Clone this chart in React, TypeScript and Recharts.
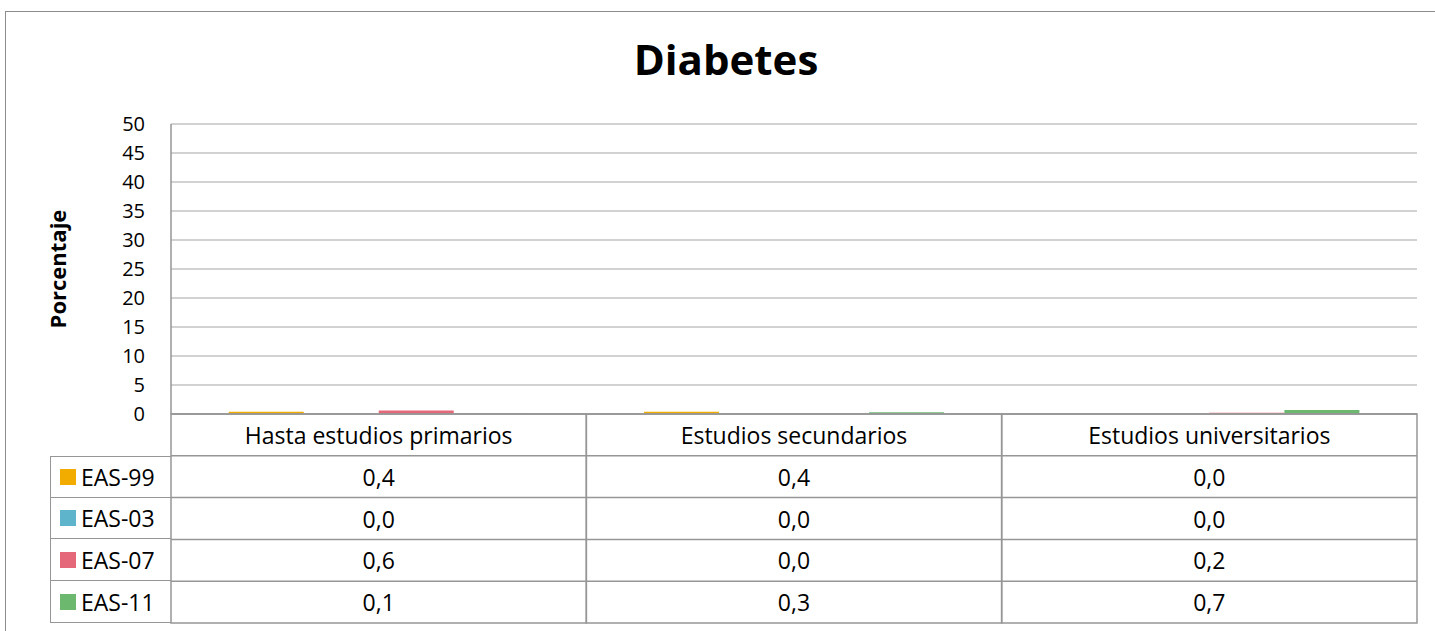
import { Bar, BarChart, CartesianGrid, XAxis, YAxis } from "recharts";

const categories = [
  "Hasta estudios primarios",
  "Estudios secundarios",
  "Estudios universitarios",
];
const seriesNames = ["EAS-99", "EAS-03", "EAS-07", "EAS-11"];
const eas99 = [0.4, 0.4, 0.0];
const eas03 = [0.0, 0.0, 0.0];
const eas07 = [0.6, 0.0, 0.2];
const eas11 = [0.1, 0.3, 0.7];
const yTicks = [0, 5, 10, 15, 20, 25, 30, 35, 40, 45, 50];

const seriesKeys = ["eas99", "eas03", "eas07", "eas11"];
const seriesValues = [eas99, eas03, eas07, eas11];
const colors = ["#F2AC00", "#5EB5CB", "#E5687A", "#6CB86F"];

const W = 1435;
const H = 631;
const PLOT_LEFT = 171;
const PLOT_RIGHT = 1417;
const PLOT_TOP = 124;
const ROW_H = 41.8;
const TABLE_H = ROW_H * 5;
const BAND = (PLOT_RIGHT - PLOT_LEFT) / categories.length;
const LEGEND_LEFT = 50;
const LINE = "#969696";
const FONT = "'Open Sans', sans-serif";
const TABLE_FONT = 23;

const rows = categories.map((name, i) => {
  const row: Record<string, string | number> = { name };
  seriesKeys.forEach((k, s) => {
    row[k] = seriesValues[s][i];
  });
  return row;
});

const fmt = (v: number) => v.toFixed(1).replace(".", ",");

function TableColumn(props: any) {
  const { x, y, payload } = props;
  const idx = categories.indexOf(payload.value);
  const left = x - BAND / 2;
  return (
    <g>
      <rect x={left} y={y} width={BAND} height={TABLE_H} fill="none" stroke={LINE} strokeWidth={1.5} />
      {seriesNames.map((_, s) => (
        <line
          key={s}
          x1={left}
          x2={left + BAND}
          y1={y + ROW_H * (s + 1)}
          y2={y + ROW_H * (s + 1)}
          stroke={LINE}
          strokeWidth={1.5}
        />
      ))}
      <text
        x={x}
        y={y + ROW_H / 2}
        dominantBaseline="central"
        textAnchor="middle"
        fontSize={TABLE_FONT}
        fontFamily={FONT}
        fill="#000"
      >
        {payload.value}
      </text>
      {seriesValues.map((vals, s) => (
        <text
          key={s}
          x={x}
          y={y + ROW_H * (s + 1.5)}
          dominantBaseline="central"
          textAnchor="middle"
          fontSize={TABLE_FONT}
          fontFamily={FONT}
          fill="#000"
        >
          {fmt(vals[idx])}
        </text>
      ))}
    </g>
  );
}

function YLabel(props: any) {
  const vb = props.viewBox;
  const cx = 57;
  const cy = vb.y + vb.height / 2;
  return (
    <text
      x={cx}
      y={cy}
      transform={`rotate(-90, ${cx}, ${cy})`}
      textAnchor="middle"
      dominantBaseline="central"
      fontSize={22}
      fontWeight="bold"
      fontFamily={FONT}
      fill="#000"
    >
      Porcentaje
    </text>
  );
}

export default function App() {
  const tableTop = PLOT_TOP + 290;
  return (
    <div style={{ position: "absolute", left: 0, top: 0, width: W, height: H, background: "#fff", overflow: "hidden" }}>
      <div
        style={{
          position: "absolute",
          left: 5,
          top: 11,
          width: 1460,
          height: 700,
          borderLeft: "1.5px solid #8c8c8c",
          borderTop: "1.5px solid #8c8c8c",
          boxSizing: "border-box",
        }}
      />
      <div
        style={{
          position: "absolute",
          left: 0,
          width: 1452,
          top: 31,
          textAlign: "center",
          fontFamily: FONT,
          fontWeight: "bold",
          fontSize: 42,
          lineHeight: "56px",
          color: "#000",
        }}
      >
        Diabetes
      </div>
      <div style={{ position: "absolute", left: 0, top: 0 }}>
        <BarChart
          width={W}
          height={H}
          data={rows}
          margin={{ top: PLOT_TOP, right: W - PLOT_RIGHT, bottom: H - PLOT_TOP - 290 - TABLE_H, left: 0 }}
          barCategoryGap="13.9%"
          barGap={0}
        >
          <CartesianGrid vertical={false} stroke="#a5a5a5" strokeWidth={1.2} />
          <XAxis
            dataKey="name"
            height={TABLE_H}
            interval={0}
            tickSize={0}
            tickMargin={0}
            axisLine={{ stroke: LINE, strokeWidth: 1.5 }}
            tick={<TableColumn />}
          />
          <YAxis
            width={PLOT_LEFT}
            domain={[0, 50]}
            ticks={yTicks}
            interval={0}
            tickSize={0}
            tickMargin={26}
            axisLine={{ stroke: LINE, strokeWidth: 1.5 }}
            tick={{ fontSize: 20, fontFamily: FONT, fill: "#000" }}
            label={<YLabel />}
          />
          {seriesKeys.map((k, s) => (
            <Bar key={k} dataKey={k} name={seriesNames[s]} fill={colors[s]} isAnimationActive={false} />
          ))}
        </BarChart>
      </div>
      <div
        style={{
          position: "absolute",
          left: LEGEND_LEFT,
          top: tableTop + ROW_H,
          width: PLOT_LEFT - LEGEND_LEFT,
          fontFamily: FONT,
          fontSize: TABLE_FONT,
        }}
      >
        {seriesNames.map((n, s) => (
          <div
            key={n}
            style={{
              height: ROW_H,
              boxSizing: "border-box",
              borderLeft: `1.5px solid ${LINE}`,
              borderBottom: `1.5px solid ${LINE}`,
              borderTop: s === 0 ? `1.5px solid ${LINE}` : undefined,
              display: "flex",
              alignItems: "center",
              paddingLeft: 9,
              gap: 5,
            }}
          >
            <span style={{ display: "inline-block", width: 16, height: 16, background: colors[s] }} />
            <span>{n}</span>
          </div>
        ))}
      </div>
    </div>
  );
}
